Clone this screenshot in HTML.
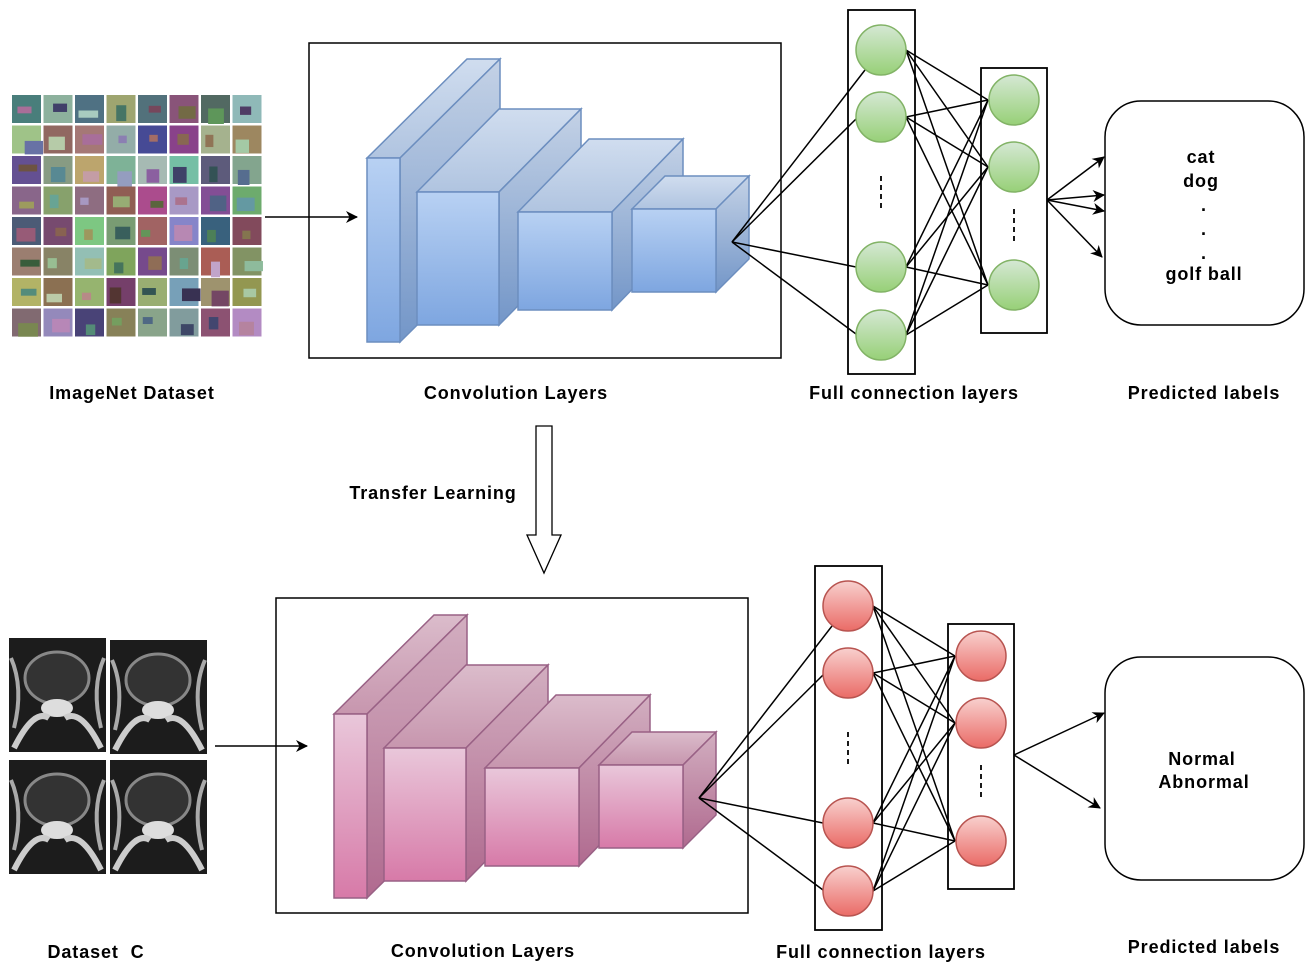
<!DOCTYPE html>
<html><head><meta charset="utf-8"><style>
html,body{margin:0;padding:0;background:#fff;}
svg{display:block;}
text{font-family:"Liberation Sans",sans-serif;font-weight:bold;font-size:18px;fill:#000;letter-spacing:0.9px;white-space:pre;}
</style></head><body>
<svg id="s" width="1313" height="975" viewBox="0 0 1313 975" xmlns="http://www.w3.org/2000/svg">
<defs>
<linearGradient id="bf" x1="0" y1="0" x2="0" y2="1"><stop offset="0" stop-color="#b8d1f3"/><stop offset="1" stop-color="#7ea6e0"/></linearGradient>
<linearGradient id="bt" x1="0" y1="0" x2="0" y2="1"><stop offset="0" stop-color="#d0ddef"/><stop offset="1" stop-color="#b0c4e0"/></linearGradient>
<linearGradient id="br" x1="0" y1="0" x2="0" y2="1"><stop offset="0" stop-color="#c4d2e6"/><stop offset="1" stop-color="#7396c8"/></linearGradient>
<linearGradient id="pf" x1="0" y1="0" x2="0" y2="1"><stop offset="0" stop-color="#e9c7da"/><stop offset="1" stop-color="#d77aa8"/></linearGradient>
<linearGradient id="pt" x1="0" y1="0" x2="0" y2="1"><stop offset="0" stop-color="#dbbccb"/><stop offset="1" stop-color="#c796ae"/></linearGradient>
<linearGradient id="pr" x1="0" y1="0" x2="0" y2="1"><stop offset="0" stop-color="#d2aec0"/><stop offset="1" stop-color="#b06a8f"/></linearGradient>
<linearGradient id="gn" x1="0" y1="0" x2="0" y2="1"><stop offset="0" stop-color="#d5e8d4"/><stop offset="1" stop-color="#97d077"/></linearGradient>
<linearGradient id="rd" x1="0" y1="0" x2="0" y2="1"><stop offset="0" stop-color="#f8d0ce"/><stop offset="1" stop-color="#ea6b66"/></linearGradient>
<marker id="ah" markerWidth="12" markerHeight="12" refX="11" refY="6" orient="auto" markerUnits="userSpaceOnUse"><path d="M0,0 L12,6 L0,12 L3.5,6 Z" fill="#000"/></marker>
</defs>
<g id="grid"></g>
<g id="mri"></g>
<line x1="265" y1="217" x2="357" y2="217" stroke="#000" stroke-width="1.5" marker-end="url(#ah)"/>
<line x1="215" y1="746" x2="307" y2="746" stroke="#000" stroke-width="1.5" marker-end="url(#ah)"/>
<rect x="309" y="43" width="472" height="315" fill="none" stroke="#000" stroke-width="1.5"/>
<rect x="276" y="598" width="472" height="315" fill="none" stroke="#000" stroke-width="1.5"/>
<g id="convTop"></g>
<g id="convBot" transform="translate(-33,556)"></g>
<g id="netTop"></g>
<g id="netBot" transform="translate(-33,556)"></g>
<rect x="1105" y="101" width="199" height="224" rx="36" fill="none" stroke="#000" stroke-width="1.5"/>
<rect x="1105" y="657" width="199" height="223" rx="36" fill="none" stroke="#000" stroke-width="1.5"/>
<line x1="1047" y1="200" x2="1104" y2="157" stroke="#000" stroke-width="1.5" marker-end="url(#ah)"/>
<line x1="1047" y1="200" x2="1104" y2="195" stroke="#000" stroke-width="1.5" marker-end="url(#ah)"/>
<line x1="1047" y1="200" x2="1104" y2="211" stroke="#000" stroke-width="1.5" marker-end="url(#ah)"/>
<line x1="1047" y1="200" x2="1102" y2="257" stroke="#000" stroke-width="1.5" marker-end="url(#ah)"/>
<line x1="1014" y1="755" x2="1104" y2="713" stroke="#000" stroke-width="1.5" marker-end="url(#ah)"/>
<line x1="1014" y1="755" x2="1100" y2="808" stroke="#000" stroke-width="1.5" marker-end="url(#ah)"/>
<text x="1201" y="163" text-anchor="middle">cat</text>
<text x="1201" y="187" text-anchor="middle">dog</text>
<text x="1204" y="211" text-anchor="middle">.</text>
<text x="1204" y="235" text-anchor="middle">.</text>
<text x="1204" y="259" text-anchor="middle">.</text>
<text x="1204" y="280" text-anchor="middle">golf ball</text>
<text x="1202" y="765" text-anchor="middle">Normal</text>
<text x="1204" y="788" text-anchor="middle">Abnormal</text>
<path d="M536,426 L552,426 L552,535 L561,535 L544,573 L527,535 L536,535 Z" fill="#fff" stroke="#000" stroke-width="1.3"/>
<text x="132" y="399" text-anchor="middle">ImageNet Dataset</text>
<text x="516" y="399" text-anchor="middle">Convolution Layers</text>
<text x="914" y="399" text-anchor="middle">Full connection layers</text>
<text x="1204" y="399" text-anchor="middle">Predicted labels</text>
<text x="433" y="499" text-anchor="middle">Transfer Learning</text>
<text x="96" y="958" text-anchor="middle" xml:space="preserve">Dataset  C</text>
<text x="483" y="957" text-anchor="middle">Convolution Layers</text>
<text x="881" y="958" text-anchor="middle">Full connection layers</text>
<text x="1204" y="953" text-anchor="middle">Predicted labels</text>
</svg>
<script>
var NS="http://www.w3.org/2000/svg";
function el(p,t,a){var e=document.createElementNS(NS,t);for(var k in a)e.setAttribute(k,a[k]);p.appendChild(e);return e;}
var g=document.getElementById("grid");var seed=7;function rnd(){seed=(seed*9301+49297)%233280;return seed/233280;}
for(var r=0;r<8;r++)for(var c=0;c<8;c++){var x=12+c*31.5,y=95+r*30.5;
var h=Math.floor(rnd()*360),s=10+rnd()*30,l=35+rnd()*35;
el(g,"rect",{x:x,y:y,width:29,height:28,fill:"hsl("+h+","+s+"%,"+l+"%)"});
el(g,"rect",{x:x+3+rnd()*10,y:y+8+rnd()*8,width:8+rnd()*12,height:6+rnd()*10,fill:"hsl("+Math.floor(rnd()*360)+",25%,"+(25+rnd()*50)+"%)"});}
var m=document.getElementById("mri");
[[9,638],[110,640],[9,760],[110,760]].forEach(function(p){
el(m,"rect",{x:p[0],y:p[1],width:97,height:114,fill:"#1c1c1c"});
el(m,"ellipse",{cx:p[0]+48,cy:p[1]+40,rx:32,ry:26,fill:"#333",stroke:"#888","stroke-width":3});
el(m,"ellipse",{cx:p[0]+48,cy:p[1]+70,rx:16,ry:9,fill:"#ddd"});
el(m,"path",{d:"M"+(p[0]+5)+","+(p[1]+110)+" Q"+(p[0]+25)+","+(p[1]+70)+" "+(p[0]+40)+","+(p[1]+80)+" M"+(p[0]+92)+","+(p[1]+110)+" Q"+(p[0]+72)+","+(p[1]+70)+" "+(p[0]+56)+","+(p[1]+80),fill:"none",stroke:"#ccc","stroke-width":6});
el(m,"path",{d:"M"+(p[0]+2)+","+(p[1]+20)+" Q"+(p[0]+15)+","+(p[1]+50)+" "+(p[0]+5)+","+(p[1]+90)+" M"+(p[0]+95)+","+(p[1]+20)+" Q"+(p[0]+82)+","+(p[1]+50)+" "+(p[0]+92)+","+(p[1]+90),fill:"none",stroke:"#aaa","stroke-width":4});
});
var blocks=[[367,158,33,184,100,-99],[417,192,82,133,82,-83],[518,212,94,98,71,-73],[632,209,84,83,33,-33]];
function conv(id,f,t,rr,st){var G=document.getElementById(id);
blocks.forEach(function(b){var x=b[0],y=b[1],w=b[2],h=b[3],dx=b[4],dy=b[5];
el(G,"path",{d:"M"+x+","+y+" L"+(x+dx)+","+(y+dy)+" L"+(x+w+dx)+","+(y+dy)+" L"+(x+w)+","+y+" Z",fill:"url(#"+t+")",stroke:st,"stroke-width":1.5});
el(G,"path",{d:"M"+(x+w)+","+y+" L"+(x+w+dx)+","+(y+dy)+" L"+(x+w+dx)+","+(y+h+dy)+" L"+(x+w)+","+(y+h)+" Z",fill:"url(#"+rr+")",stroke:st,"stroke-width":1.5});
el(G,"rect",{x:x,y:y,width:w,height:h,fill:"url(#"+f+")",stroke:st,"stroke-width":1.5});});}
conv("convTop","bf","bt","br","#6c8ebf");conv("convBot","pf","pt","pr","#996185");
function net(id,fill,st){var G=document.getElementById(id);
el(G,"rect",{x:848,y:10,width:67,height:364,fill:"none",stroke:"#000","stroke-width":1.8});
el(G,"rect",{x:981,y:68,width:66,height:265,fill:"none",stroke:"#000","stroke-width":1.8});
var c1=[50,117,267,335],c2=[100,167,285];
[[865,70],[857,118],[856,267],[856,334]].forEach(function(p){el(G,"line",{x1:732,y1:242,x2:p[0],y2:p[1],stroke:"#000","stroke-width":1.5});});
c1.forEach(function(a){c2.forEach(function(b){el(G,"line",{x1:906,y1:a,x2:988,y2:b,stroke:"#000","stroke-width":1.5});});});
c1.forEach(function(y){el(G,"circle",{cx:881,cy:y,r:25,fill:"url(#"+fill+")",stroke:st,"stroke-width":1.5});});
c2.forEach(function(y){el(G,"circle",{cx:1014,cy:y,r:25,fill:"url(#"+fill+")",stroke:st,"stroke-width":1.5});});
el(G,"line",{x1:881,y1:176,x2:881,y2:208,stroke:"#000","stroke-width":1.8,"stroke-dasharray":"5,4"});
el(G,"line",{x1:1014,y1:209,x2:1014,y2:241,stroke:"#000","stroke-width":1.8,"stroke-dasharray":"5,4"});}
net("netTop","gn","#82b366");net("netBot","rd","#b85450");
</script>
</body></html>
